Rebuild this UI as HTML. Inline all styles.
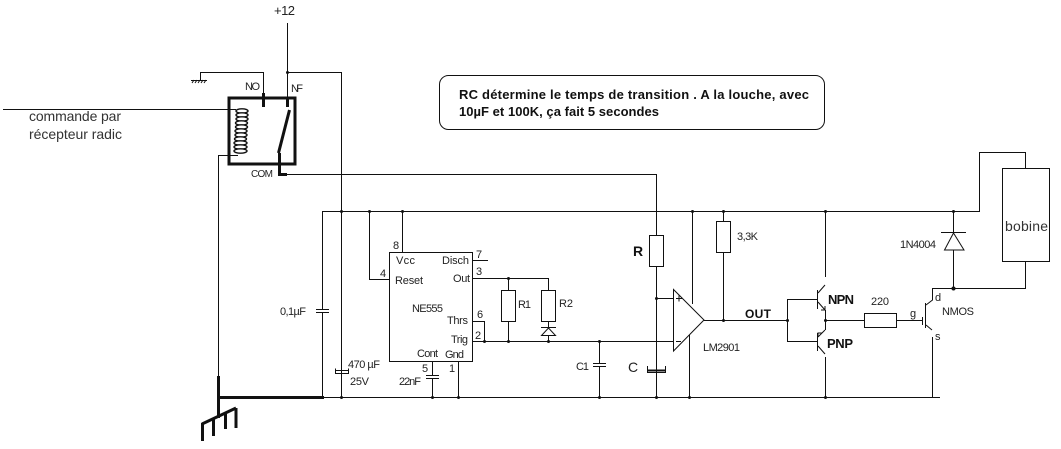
<!DOCTYPE html>
<html><head><meta charset="utf-8"><style>
html,body{margin:0;padding:0;background:#fff;width:1061px;height:449px;overflow:hidden}
svg{display:block}
text{font-family:"Liberation Sans",sans-serif;font-size:11px;fill:#222}
.b{font-weight:bold;fill:#111}
.l{fill:none;stroke:#111;stroke-width:1}
.t{fill:none;stroke:#111;stroke-width:3}
circle{fill:#111}
</style></head><body>
<svg width="1061" height="449" viewBox="0 0 1061 449" xmlns="http://www.w3.org/2000/svg">
<g class="l">
<path d="M287.5 23V97M287.5 72.5H341.5V397"/>
<path d="M200.5 80V72.5H263.5V97"/>
<path d="M191 80.5H207M192 83l2-3M195 83l2-3M198 83l2-3M201 83l2-3M204 83l2-3"/>
<path d="M3 109.5H236"/>
<path d="M238 155.5H218.5V377"/>
<path d="M281 174.5H656.5V235M656.5 266V397"/>
<path d="M323 211.5H979.5V152.5H1025.5V168M1025.5 261V288.5H932.5"/>
<rect x="1002.5" y="168.5" width="47" height="93"/>
<path d="M323 397.5H940"/>
<path d="M322.500 211V309M322.500 312V397M316 309.500H329M316 312.500H329"/>
<path d="M335.500 368.500V373.500H348.500V368.500M335.500 370.500H348.500"/>
<path d="M369.500 211V279.500H389M402.500 211V252"/>
<rect x="389.500" y="252.500" width="83" height="109"/>
<path d="M473 260.500H488M473 278.500H548.500V290M508.500 278V290M508.500 321V341M548.500 321V327M548.500 336V341"/>
<rect x="501.500" y="290.500" width="14" height="31"/>
<rect x="541.500" y="290.500" width="14" height="31"/>
<path d="M541 327.500H556M548.500 328L541.500 335.500H555.500Z"/>
<path d="M473 321.500H484.500V341M473 341.500H673"/>
<path d="M432.500 361V375M432.500 379V397M426 375.500H439M426 378.500H439M458.500 361V397"/>
<path d="M599.500 341V363M599.500 367V397M593 363.500H606M593 366.500H606"/>
<rect x="649.500" y="235.500" width="14" height="31"/>
<path d="M656.500 298.500H673"/>
<path d="M647.500 366V372.500H665.500V366"/>
<path d="M673.500 289.500V351L704 320Z"/>
<path d="M676 298.500H682M679 295.500V301.500M676 341.500H681"/>
<path d="M692.500 211V304M689.500 335V397"/>
<path d="M723.500 211V221M723.500 252V320"/>
<rect x="716.500" y="221.500" width="14" height="31"/>
<path d="M704 320.500H787.500M787.500 299.500H817M787.500 341.500H817M787.500 299V342"/>
<path d="M825.500 211V277M825 285L818 293M817.500 290V309M818 302L825 310M825.500 310V320.500"/>
<path d="M817.500 333V351M825 330L818 337M818 346L825 354M825.500 357V397M825.500 320.500V330"/>
<path d="M821 310H825V306M818 337V333H822"/>
<path d="M825 320.500H864.500M896 320.500H922"/>
<rect x="864.500" y="313.500" width="32" height="14"/>
<path d="M932.500 288V300L926 305M925.500 303V328M922.500 317V325M926 325L932 330M932.500 337V397"/>
<path d="M953.500 211V232M953.500 250V288M941 232.500H966M953.500 233L944.500 250H964Z"/>
<rect x="439.500" y="75.500" width="385" height="54" rx="9"/>
</g>
<rect x="229" y="98" width="66" height="66" fill="none" stroke="#111" stroke-width="3"/>
<g class="t">
<path d="M263.500 93V107M287.500 97V107M289.500 110L278.500 153M279.500 153V174.500H287"/>
<path d="M218.500 376V418M217 397.500H324"/>
<path d="M202 424L236 408M202.500 423V441M213.500 419V436M225.500 414V429M236 408V428"/>
</g>
<g fill="#fff" stroke="#111" stroke-width="1.4">
<ellipse cx="242" cy="111" rx="6" ry="2.2"/><ellipse cx="242" cy="115" rx="6" ry="2.2"/><ellipse cx="242" cy="119" rx="6" ry="2.2"/><ellipse cx="241.500" cy="123" rx="6" ry="2.2"/><ellipse cx="241.500" cy="127" rx="6" ry="2.2"/><ellipse cx="241" cy="131" rx="6" ry="2.2"/><ellipse cx="241" cy="135" rx="6" ry="2.2"/><ellipse cx="240.500" cy="139" rx="6" ry="2.2"/><ellipse cx="240.500" cy="143" rx="6.500" ry="2.2"/><ellipse cx="240.500" cy="147" rx="6.500" ry="2.2"/><ellipse cx="240.500" cy="151" rx="6.500" ry="2.2"/>
</g>
<path d="M647 370.500H665" stroke="#111" stroke-width="2" fill="none"/>
<g>
<circle cx="287.5" cy="72.5" r="1.5"/><circle cx="341.5" cy="211.5" r="1.5"/><circle cx="369.500" cy="211.500" r="1.5"/><circle cx="402.500" cy="211.500" r="1.5"/><circle cx="692.500" cy="211.500" r="1.5"/><circle cx="723.500" cy="211.500" r="1.5"/><circle cx="825.500" cy="211.500" r="1.5"/><circle cx="953.500" cy="211.500" r="1.5"/><circle cx="953.500" cy="288.500" r="2"/>
<circle cx="341.500" cy="397.500" r="1.5"/><circle cx="432.500" cy="397.500" r="1.5"/><circle cx="458.500" cy="397.500" r="1.5"/><circle cx="599.500" cy="397.500" r="1.5"/><circle cx="656.500" cy="397.500" r="1.5"/><circle cx="689.500" cy="397.500" r="1.5"/><circle cx="825.500" cy="397.500" r="1.5"/>
<circle cx="508.500" cy="278.500" r="1.5"/><circle cx="484.500" cy="341.500" r="1.5"/><circle cx="508.500" cy="341.500" r="1.5"/><circle cx="548.500" cy="341.500" r="1.5"/><circle cx="599.500" cy="341.500" r="1.5"/><circle cx="656.500" cy="298.500" r="1.5"/><circle cx="723.500" cy="320.500" r="1.5"/><circle cx="787.500" cy="320.500" r="1.5"/><circle cx="825.500" cy="320.500" r="1.5"/>
</g>
<text x="274" y="15" style="font-size:13px" textLength="21">+12</text>
<text x="245" y="90" textLength="15">NO</text>
<text x="291" y="92" textLength="12">NF</text>
<text x="251" y="177" style="font-size:10px" textLength="22">COM</text>
<text x="29" y="121" style="font-size:14px;fill:#333" textLength="92">commande par</text>
<text x="29" y="139" style="font-size:14px;fill:#333" textLength="93">récepteur radic</text>
<text class="b" x="459" y="99" style="font-size:13px" textLength="350">RC détermine le temps de transition . A la louche, avec</text>
<text class="b" x="459" y="116" style="font-size:13px" textLength="200">10µF et 100K, ça fait 5 secondes</text>
<text x="393" y="249">8</text>
<text x="396" y="264" textLength="19">Vcc</text>
<text x="395" y="284" textLength="28">Reset</text>
<text x="442" y="264" textLength="27">Disch</text>
<text x="453" y="282" textLength="17">Out</text>
<text x="412" y="312" textLength="31">NE555</text>
<text x="447" y="324" textLength="21">Thrs</text>
<text x="451" y="343" textLength="17">Trig</text>
<text x="417" y="357" textLength="21">Cont</text>
<text x="445" y="358" textLength="19">Gnd</text>
<text x="380" y="277">4</text>
<text x="476" y="258">7</text>
<text x="476" y="275">3</text>
<text x="477" y="318">6</text>
<text x="475" y="339">2</text>
<text x="422" y="372">5</text>
<text x="449" y="372">1</text>
<text x="399" y="385" textLength="22">22nF</text>
<text x="348" y="368" textLength="32">470 µF</text>
<text x="350" y="385" textLength="19">25V</text>
<text x="280" y="315" textLength="26">0,1µF</text>
<text x="518" y="308" textLength="13">R1</text>
<text x="559" y="307" textLength="14">R2</text>
<text x="576" y="370" textLength="13">C1</text>
<text x="628" y="372" style="font-size:14px">C</text>
<text class="b" x="633" y="256" style="font-size:14px">R</text>
<text x="737" y="240" textLength="21">3,3K</text>
<text class="b" x="745" y="318" style="font-size:12px" textLength="26">OUT</text>
<text x="703" y="351" textLength="37">LM2901</text>
<text class="b" x="828" y="304" style="font-size:13px" textLength="26">NPN</text>
<text class="b" x="827" y="348" style="font-size:13px" textLength="26">PNP</text>
<text x="871" y="305" textLength="18">220</text>
<text x="910" y="317" textLength="6">g</text>
<text x="935" y="301">d</text>
<text x="935" y="340">s</text>
<text x="942" y="315" textLength="32">NMOS</text>
<text x="900" y="248" textLength="36">1N4004</text>
<text x="1005" y="231" style="font-size:14px;fill:#333" textLength="43">bobine</text>
</svg>
</body></html>
